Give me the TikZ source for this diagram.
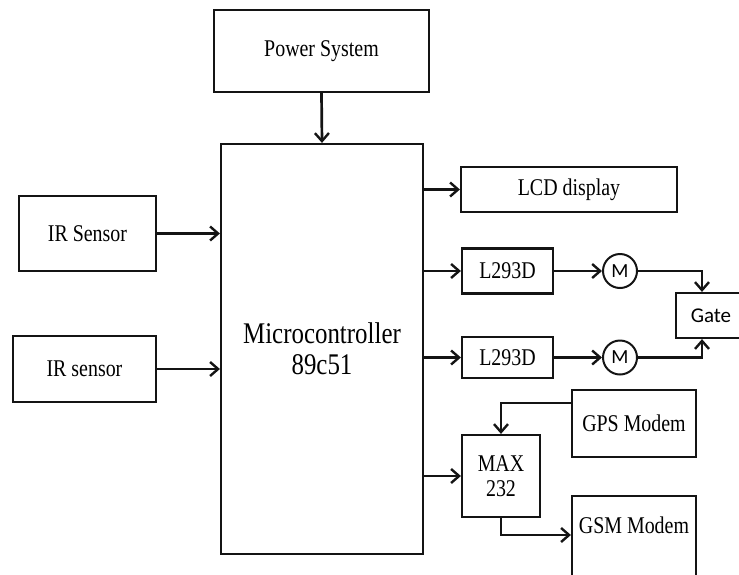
\documentclass[tikz,border=0pt]{standalone}
\usepackage{fontspec}
\setmainfont{Liberation Serif}[FakeStretch=0.83]
\newfontfamily\calfont{Carlito}
\usetikzlibrary{arrows.meta,calc}
\definecolor{wire}{RGB}{20,20,20}
\tikzset{sigline/.style={draw=wire,line width=2.7pt},
         sigarrow/.style={sigline,-{Straight Barb[length=8pt,width=14pt,line width=2.4pt]}},
         blockbox/.style={draw=wire,line width=2.2pt,fill=white,inner sep=0pt,
                          font=\fontsize{24}{25}\selectfont,align=center},
         motor/.style={circle,draw=wire,line width=2pt,minimum size=34pt,inner sep=0pt,
                       font=\calfont\fontsize{20}{20}\selectfont}}

\begin{document}
\begin{tikzpicture}[x=1pt,y=-1pt]
  \useasboundingbox (0,0) rectangle (739,574);
  \clip (0,0) rectangle (739,574);
  \fill[white] (0,0) rectangle (739,574);
  % blocks
  \node[blockbox,minimum width=215,minimum height=82] (power) at (321.5,51) {Power System};
  \node[blockbox,minimum width=202,minimum height=410,font=\fontsize{30}{31}\selectfont]
       (micro) at (322,349) {Microcontroller\\89c51};
  \node[blockbox,minimum width=137,minimum height=75] (irA) at (87.5,233.5) {IR Sensor};
  \node[blockbox,minimum width=143,minimum height=66] (irB) at (84.5,369) {IR sensor};
  \node[blockbox,minimum width=216,minimum height=45] (lcd) at (569,189.5) {LCD display};
  \node[blockbox,minimum width=91,minimum height=45] (drvA) at (507.5,271) {L293D};
  \node[blockbox,minimum width=91,minimum height=41] (drvB) at (507.5,357.5) {L293D};
  \node[motor] (motA) at (620,271) {M};
  \node[motor] (motB) at (620,357.5) {M};
  \node[blockbox,minimum width=70,minimum height=45,font=\calfont\fontsize{21}{21}\selectfont]
       (gate) at (711,315.5) {Gate};
  \node[blockbox,minimum width=124,minimum height=67] (gps) at (634,423.5) {GPS Modem};
  \node[blockbox,minimum width=78,minimum height=82] (max) at (501,476) {MAX\\232};
  \node[blockbox,minimum width=124,anchor=north,inner ysep=21pt,text height=16pt,text depth=60pt]
       (gsm) at (634,495) {GSM Modem};
  % signal paths
  \draw[sigarrow] (power.south) -- (micro.north);
  \draw[sigarrow] (irA.east) -- (irA.east -| micro.west);
  \draw[sigarrow] (irB.east) -- (irB.east -| micro.west);
  \draw[sigarrow] (lcd.west -| micro.east) -- (lcd.west);
  \draw[sigarrow] (drvA.west -| micro.east) -- (drvA.west);
  \draw[sigarrow] (drvB.west -| micro.east) -- (drvB.west);
  \draw[sigarrow] (max.west -| micro.east) -- (max.west);
  \draw[sigarrow] (drvA.east) -- (motA.west);
  \draw[sigarrow] (drvB.east) -- (motB.west);
  \draw[sigarrow] (motA.east) -| ([xshift=-9pt]gate.north);
  \draw[sigarrow] (motB.east) -| ([xshift=-9pt]gate.south);
  \draw[sigarrow] ([yshift=-14pt]gps.north west) -| (max.north);
  \draw[sigarrow] (max.south) |- ([yshift=-40pt]gsm.north west);
\end{tikzpicture}
\end{document}
